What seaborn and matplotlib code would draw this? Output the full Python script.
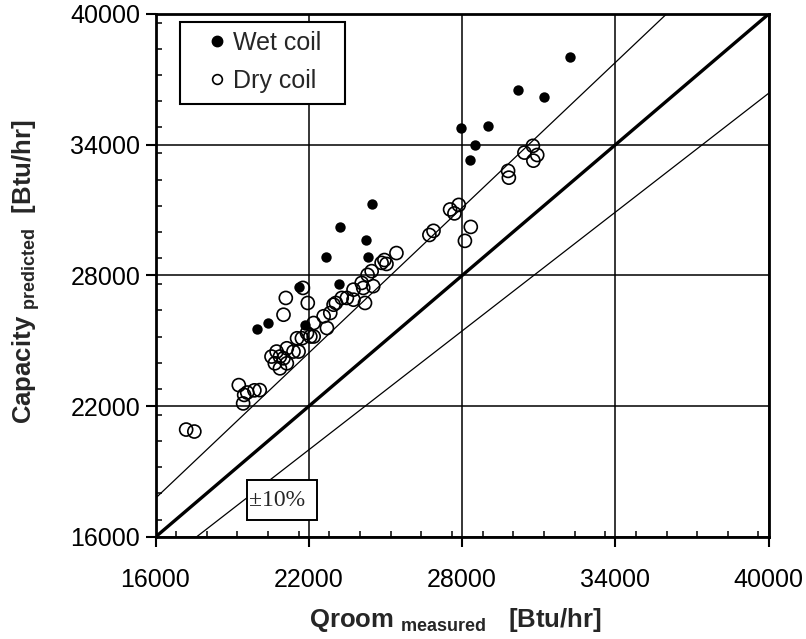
import matplotlib
matplotlib.use("Agg")
import matplotlib.pyplot as plt
import seaborn as sns
import pandas as pd
from matplotlib.lines import Line2D
from matplotlib.patches import Rectangle
from matplotlib.ticker import MultipleLocator, FixedLocator

# ---------------- data ----------------
wet_x = [32220, 30190, 31210, 27950, 29000, 28500, 28310, 24460, 23230, 24220,
         22670, 24300, 23200, 21620, 20390, 19990, 21860]
wet_y = [38010, 36490, 36190, 34770, 34850, 33990, 33320, 31260, 30210, 29650,
         28850, 28850, 27590, 27470, 25820, 25540, 25740]

dry_x = [17200, 17520, 19260, 19470, 19590, 19430, 19870, 20080, 20540, 20740,
         20670, 20870, 21140, 20870, 21140, 21400, 21600, 21010, 21540, 21730,
         21930, 22060, 22190, 22190, 22710, 22580, 22840, 22970, 23060, 23290,
         23490, 23750, 23750, 24070, 24130, 24200, 24460, 24520, 21770, 21100,
         21960, 21010, 24300, 24850, 24960, 25040, 25430, 26720, 26880, 27530,
         27700, 27870, 28340, 28110, 29800, 29830, 30440, 30770, 30940, 30790]
dry_y = [20930, 20840, 22970, 22520, 22630, 22130, 22730, 22740, 24280, 24510,
         23970, 24280, 23970, 23740, 24660, 24510, 24510, 24200, 25120, 25120,
         25360, 25200, 25200, 25820, 25590, 26130, 26280, 26660, 26740, 26970,
         26970, 26890, 27350, 27660, 27430, 26740, 28200, 27510, 27430, 26970,
         26740, 26200, 28030, 28580, 28710, 28530, 29030, 29860, 30050, 31030,
         30850, 31240, 30230, 29590, 32800, 32490, 33640, 33950, 33530, 33270]

ref_x = [16000, 40000]
one_to_one_y = [16000, 40000]
plus10_y = [17778, 44444]
minus10_y = [14545, 36364]

major_ticks = [16000, 22000, 28000, 34000, 40000]
tick_labels = ["16000", "22000", "28000", "34000", "40000"]
legend_labels = ["Wet coil", "Dry coil"]
band_label = "\u00b110%"

# ---------------- style ----------------
sns.set_theme(style="ticks")
plt.rcParams['font.family'] = ['Liberation Sans', 'DejaVu Sans']
plt.rcParams['mathtext.fontset'] = 'custom'
plt.rcParams['mathtext.rm'] = 'Liberation Sans'
plt.rcParams['mathtext.bf'] = 'Liberation Sans:bold'
plt.rcParams['mathtext.it'] = 'Liberation Sans:italic'

W, H = 806, 639
fig = plt.figure(figsize=(W / 100, H / 100), dpi=100)
fig.patch.set_facecolor('white')
L, R, T, B = 155.5, 768.7, 14, 537
ax = fig.add_axes([L / W, 1 - B / H, (R - L) / W, (B - T) / H])
ax.set_facecolor('white')


def ax_px(px, py):
    """pixel position -> axes fraction (for layout only)"""
    return (px - L) / (R - L), (B - py) / (B - T)


ax.set_xlim(16000, 40000)
ax.set_ylim(16000, 40000)

# reference lines
sns.lineplot(x=ref_x, y=one_to_one_y, ax=ax, color='black', lw=2.4, zorder=3)
sns.lineplot(x=ref_x, y=plus10_y, ax=ax, color='black', lw=0.9, zorder=3)
sns.lineplot(x=ref_x, y=minus10_y, ax=ax, color='black', lw=0.9, zorder=3)

# data
dry = pd.DataFrame({'x': dry_x, 'y': dry_y})
wet = pd.DataFrame({'x': wet_x, 'y': wet_y})
sns.scatterplot(data=dry, x='x', y='y', ax=ax, marker='o', s=88,
                facecolors='none', edgecolors='black', linewidths=1.2, zorder=4)
sns.scatterplot(data=wet, x='x', y='y', ax=ax, marker='o', s=56,
                color='black', edgecolor='black', linewidth=0, zorder=5)

# axes
ax.xaxis.set_major_locator(FixedLocator(major_ticks))
ax.yaxis.set_major_locator(FixedLocator(major_ticks))
ax.set_xticklabels(tick_labels)
ax.set_yticklabels(tick_labels)
ax.xaxis.set_minor_locator(MultipleLocator(1200))
ax.yaxis.set_minor_locator(MultipleLocator(1200))
ax.tick_params(which='major', direction='out', length=7, width=1.5,
               labelsize=18, colors='black')
ax.tick_params(axis='x', which='major', pad=15)
ax.tick_params(axis='y', which='major', pad=4)
ax.tick_params(which='minor', direction='in', length=4, width=1.3)
ax.grid(True, which='major', color='black', lw=1.1)
for s in ax.spines.values():
    s.set_visible(True)
    s.set_color('black')
    s.set_linewidth(2.0)

ax.set_xlabel(r"$\mathbf{Qroom}\ _{\mathbf{measured}}\ \ \ \mathbf{[Btu/hr]}$", fontsize=18.5)
ax.set_ylabel(r"$\mathbf{Capacity}\ _{\mathbf{predicted}}\ \ \mathbf{[Btu/hr]}$", fontsize=18.5)
ax.xaxis.set_label_coords(*ax_px(455, 606))
ax.yaxis.set_label_coords(*ax_px(42, 272))

# legend (frame drawn as separate rectangle)
handles = [Line2D([], [], ls='none', marker='o', ms=7.5, mfc='black', mec='black'),
           Line2D([], [], ls='none', marker='o', ms=7, mfc='white', mec='black', mew=1.2)]
leg = ax.legend(handles, legend_labels, loc='upper left', bbox_to_anchor=ax_px(204, 31),
                borderaxespad=0, borderpad=0, fontsize=18, frameon=False,
                handlelength=1.0, handletextpad=0.15, labelspacing=0.55)
leg.set_zorder(10)
x0, y0 = ax_px(180, 104)
x1, y1 = ax_px(345, 22)
ax.add_patch(Rectangle((x0, y0), x1 - x0, y1 - y0, transform=ax.transAxes,
                       fc='white', ec='black', lw=1.5, zorder=9))

# ±10% label
bx0, by0 = ax_px(247, 520)
bx1, by1 = ax_px(317, 480)
ax.add_patch(Rectangle((bx0, by0), bx1 - bx0, by1 - by0, transform=ax.transAxes,
                       fc='white', ec='black', lw=1.4, zorder=6))
tx, ty = ax_px(249, 500)
ax.text(tx, ty, band_label, transform=ax.transAxes, fontsize=17,
        family=['Liberation Serif', 'DejaVu Serif'], ha='left', va='center', zorder=7)

fig.savefig("out.png", dpi=100, facecolor='white')
